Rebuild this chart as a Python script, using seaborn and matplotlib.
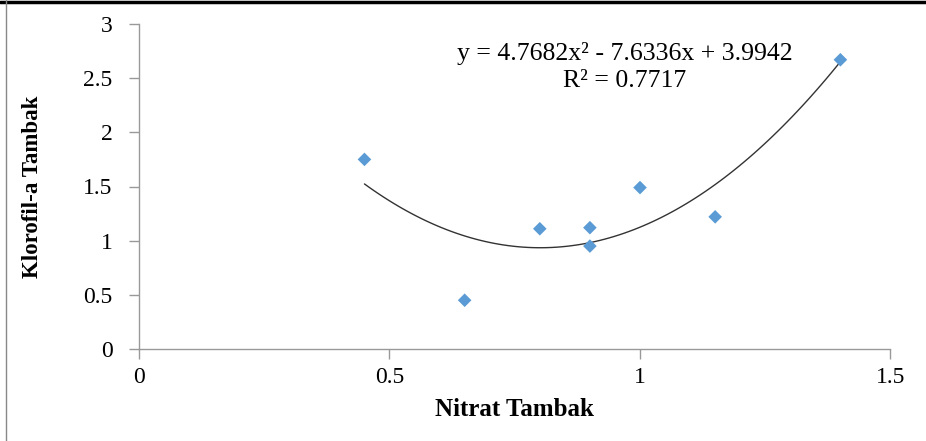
import numpy as np
import pandas as pd
import matplotlib
matplotlib.use("Agg")
import matplotlib.pyplot as plt
import seaborn as sns
from matplotlib.lines import Line2D

# data
nitrat = [0.45, 0.65, 0.80, 0.90, 0.90, 1.00, 1.15, 1.40]
klorofil = [1.75, 0.45, 1.11, 1.12, 0.95, 1.49, 1.22, 2.67]
x_ticks = [0, 0.5, 1, 1.5]
y_ticks = [0, 0.5, 1, 1.5, 2, 2.5, 3]
eq_line = "y = 4.7682x² - 7.6336x + 3.9942"
r2_line = "R² = 0.7717"

df = pd.DataFrame({"Nitrat": nitrat, "Klorofil": klorofil})

sns.set_theme(style="white")
plt.rcParams["font.family"] = ["Liberation Serif", "DejaVu Serif"]
plt.rcParams["text.color"] = "black"
plt.rcParams["axes.labelcolor"] = "black"
plt.rcParams["xtick.labelcolor"] = "black"
plt.rcParams["ytick.labelcolor"] = "black"

fig = plt.figure(figsize=(9.26, 4.41), dpi=100)
ax = fig.add_axes([139 / 926, 1 - 349 / 441, (890.5 - 139) / 926, (349 - 24) / 441])

# second-order trendline, as Excel draws it
sns.regplot(data=df, x="Nitrat", y="Klorofil", order=2, ci=None,
            scatter=False, ax=ax, line_kws={"color": "#333333", "lw": 1.0})
sns.scatterplot(data=df, x="Nitrat", y="Klorofil", marker="D", s=48,
                color="#5B9BD5", edgecolor="none", ax=ax, zorder=3)

ax.set_xlim(0, 1.5)
ax.set_ylim(0, 3)
ax.set_xticks(x_ticks)
ax.set_xticklabels(["0", "0.5", "1", "1.5"])
ax.set_yticks(y_ticks)
ax.set_yticklabels(["0", "0.5", "1", "1.5", "2", "2.5", "3"])
ax.tick_params(axis="both", direction="out", length=7, width=1,
               color="#999999", labelsize=17, left=True, bottom=True)
ax.tick_params(axis="y", pad=12)
ax.tick_params(axis="x", pad=6)
for s in ["top", "right"]:
    ax.spines[s].set_visible(False)
for s in ["left", "bottom"]:
    ax.spines[s].set_color("#999999")
    ax.spines[s].set_linewidth(1)

ax.set_xlabel("Nitrat Tambak", fontsize=18, fontweight="bold", labelpad=7)
ax.set_ylabel("Klorofil-a Tambak", fontsize=16.5, fontweight="bold", labelpad=29)

ax.text(625, 441 - 60, eq_line, transform=None, fontsize=18.5,
        ha="center", va="baseline")
ax.text(625, 441 - 87, r2_line, transform=None, fontsize=18.5,
        ha="center", va="baseline")

# figure frame bits
fig.add_artist(Line2D([0, 1], [1 - 1.5 / 441] * 2, color="black", lw=2.5,
                      transform=fig.transFigure))
fig.add_artist(Line2D([6 / 926] * 2, [0, 1], color="#888888", lw=1,
                      transform=fig.transFigure))

fig.savefig("out.png", dpi=100)
